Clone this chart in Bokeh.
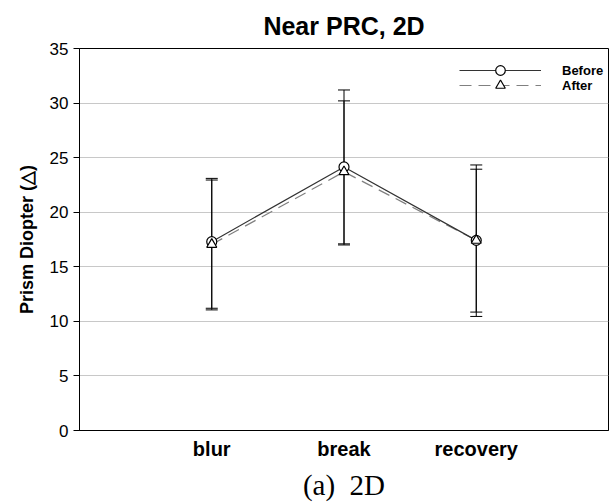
from bokeh.plotting import figure
from bokeh.models import (Whisker, ColumnDataSource, FixedTicker, Legend, LegendItem, Title, TeeHead)
from bokeh.embed import file_html
from bokeh.resources import INLINE

categories = ["blur", "break", "recovery"]
xpos = [1, 2, 3]
before_mean = [17.3, 24.15, 17.42]
before_upper = [23.1, 31.2, 24.33]
before_lower = [11.2, 17.1, 10.45]
after_mean = [17.05, 23.7, 17.42]
after_upper = [22.95, 30.2, 23.94]
after_lower = [11.05, 17.0, 10.85]
y_ticks = [0, 5, 10, 15, 20, 25, 30, 35]

FONT = "Liberation Sans"

p = figure(width=610, height=504, output_backend="svg", toolbar_location=None,
           x_range=(0, 4), y_range=(0, 35),
           min_border_left=79, min_border_right=2, min_border_top=48, min_border_bottom=74)

p.title.text = "Near PRC, 2D"
p.title.align = "center"
p.title.text_font = FONT
p.title.text_font_style = "bold"
p.title.text_font_size = "25px"
p.title.text_color = "black"
p.title.standoff = 18

p.add_layout(Title(text="(a)\u00a0 2D", align="center", text_font="Liberation Serif",
                   text_font_style="normal", text_font_size="29px", text_color="black",
                   standoff=8), "below")

p.outline_line_color = "black"
p.outline_line_alpha = 1
p.outline_line_width = 1

p.xgrid.visible = False
p.ygrid.grid_line_color = "#c8c8c8"
p.ygrid.grid_line_width = 1
p.yaxis.ticker = FixedTicker(ticks=y_ticks)
p.yaxis.minor_tick_line_color = None
p.yaxis.major_tick_out = 6
p.yaxis.major_tick_in = 0
p.yaxis.major_label_standoff = 5
p.yaxis.major_label_text_font = FONT
p.yaxis.major_label_text_font_size = "17px"
p.yaxis.major_label_text_color = "black"
p.yaxis.axis_line_color = "black"
p.yaxis.major_tick_line_color = "black"
p.yaxis.axis_label = "Prism Diopter (△)"
p.yaxis.axis_label_text_font = FONT
p.yaxis.axis_label_text_font_style = "bold"
p.yaxis.axis_label_text_font_size = "18px"
p.yaxis.axis_label_text_color = "black"
p.yaxis.axis_label_standoff = 10

p.xaxis.ticker = FixedTicker(ticks=xpos)
p.xaxis.major_label_overrides = {x: c for x, c in zip(xpos, categories)}
p.xaxis.minor_tick_line_color = None
p.xaxis.major_tick_out = 0
p.xaxis.major_tick_in = 0
p.xaxis.major_label_standoff = 7
p.xaxis.major_label_text_font = FONT
p.xaxis.major_label_text_font_style = "bold"
p.xaxis.major_label_text_font_size = "20px"
p.xaxis.major_label_text_color = "black"
p.xaxis.axis_line_color = "black"

src_b = ColumnDataSource(dict(x=xpos, y=before_mean, up=before_upper, lo=before_lower))
src_a = ColumnDataSource(dict(x=xpos, y=after_mean, up=after_upper, lo=after_lower))

for src in (src_b, src_a):
    w = Whisker(source=src, base="x", upper="up", lower="lo", dimension="height",
                line_color="black", line_width=1,
                upper_head=TeeHead(size=12, line_color="black", line_width=1),
                lower_head=TeeHead(size=12, line_color="black", line_width=1))
    p.add_layout(w)

la = p.line("x", "y", source=src_a, line_color="#808080", line_width=1.2, line_dash="12 7")
lb = p.line("x", "y", source=src_b, line_color="#333333", line_width=1.2)
sb = p.scatter("x", "y", source=src_b, marker="circle", size=10, fill_color="white",
               line_color="black", line_width=1.2)
sa = p.scatter("x", "y", source=src_a, marker="triangle", size=10, fill_color="white",
               line_color="black", line_width=1.2)

legend_style = dict(orientation="vertical", glyph_width=82, glyph_height=24,
                    label_standoff=21, spacing=0, padding=0, margin=0, label_height=14,
                    label_text_font=FONT, label_text_font_style="bold",
                    label_text_font_size="13px", label_text_color="black",
                    border_line_color=None, background_fill_alpha=0)
leg1 = Legend(items=[LegendItem(label="Before", renderers=[lb, sb])],
              location=(380, 348), **legend_style)
leg2 = Legend(items=[LegendItem(label="After", renderers=[la, sa])],
              location=(380, 333), **legend_style)
p.add_layout(leg1)
p.add_layout(leg2)

open("out.html", "w").write(file_html(p, INLINE))
